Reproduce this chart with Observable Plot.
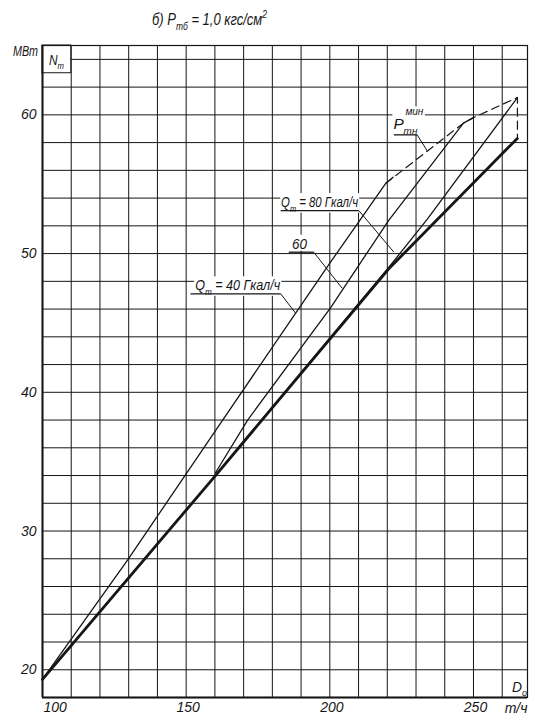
<!DOCTYPE html>
<html><head><meta charset="utf-8">
<script src="https://cdn.jsdelivr.net/npm/d3@7"></script>
<script src="https://cdn.jsdelivr.net/npm/@observablehq/plot@0.6"></script>
<style>html,body{margin:0;padding:0;background:#fff}</style>
</head><body><div id="chart"></div>
<script>
// ---- axes / grid ----
const xDomain = [100, 268.8];
const yDomain = [18, 65];
const xTicks = [100, 150, 200, 250];
const yTicks = [20, 30, 40, 50, 60];
const xGridLines = [110, 120, 130, 140, 150, 160, 170, 180, 190, 200, 210, 220, 230, 240, 250, 260];
const yGridLines = [20, 22, 24, 26, 28, 30, 32, 34, 36, 38, 40, 42, 44, 46, 48, 50, 52, 54, 56, 58, 60, 62];
const topGridLine = [64];
const boxD = [100, 110];
const boxN = [63, 65];

// ---- curves (D0, t/h  ->  N_T, MW) ----
const dBase = [100, 160.2, 200.3, 220.5, 265.25];
const nBase = [19.3, 34.0, 43.9, 48.9, 58.3];
const dQ40 = [100, 129.6, 162.7, 200.3, 219.4, 222];
const nQ40 = [19.3, 27.9, 38.0, 49.4, 55.05, 55.5];
const dQ60 = [160.2, 171.4, 200.3, 220.5, 246.5, 250];
const nQ60 = [34.2, 38.0, 46.1, 52.4, 59.4, 59.8];
const dQ80 = [160.2, 200.3, 220.5, 234, 265.3];
const nQ80 = [34.05, 44.0, 49.0, 52.5, 61.25];
const dPmin = [219.4, 234, 246.5, 250, 265.3, 265.3];
const nPmin = [55.05, 57.4, 59.4, 59.8, 61.25, 58.3];

// ---- callouts: underline start/end, leader tip ----
const calloutNames = ["Q40", "Q60", "Q80", "Pmin"];
const ulD1 = [151.5, 185.7, 182.9, 222.3];
const ulD2 = [182.9, 194.4, 210.1, 230.4];
const ulN = [47.1, 50.1, 53.1, 58.56];
const tipD = [188.1, 204.3, 222.3, 233.9];
const tipN = [45.7, 47.5, 50.1, 57.4];
const textD = [153.3, 187.0, 183.2, 222.3];

const INK = "#161616";
const FONT = "'Liberation Sans', Arial, sans-serif";

const rows = (ds, ns) => ds.map((d, i) => ({D: d, N: ns[i]}));
const callouts = calloutNames.map((k, i) => ({k, x1: ulD1[i], x2: ulD2[i], y: ulN[i], tx: tipD[i], ty: tipN[i]}));

const plot = Plot.plot({
  width: 541, height: 726,
  marginLeft: 42, marginRight: 14, marginTop: 45, marginBottom: 29,
  x: {domain: xDomain, axis: null},
  y: {domain: yDomain, axis: null},
  style: {background: "white", fontFamily: FONT, color: INK},
  marks: [
    Plot.ruleX(xGridLines, {x: d => d, stroke: INK, strokeWidth: 1}),
    Plot.ruleY(yGridLines, {y: d => d, stroke: INK, strokeWidth: 1}),
    Plot.ruleY(topGridLine, {y: d => d, x1: () => boxD[1], x2: () => xDomain[1], stroke: INK, strokeWidth: 1}),
    Plot.rect([0], {x1: () => boxD[0], x2: () => boxD[1], y1: () => boxN[0], y2: () => boxN[1], fill: "white", stroke: INK, strokeWidth: 1}),
    Plot.frame({stroke: INK, strokeWidth: 1.2}),
    Plot.ruleX([xDomain[0]], {x: d => d, stroke: INK, strokeWidth: 2}),
    Plot.ruleY([yDomain[0]], {y: d => d, stroke: INK, strokeWidth: 2}),
    Plot.line(rows(dPmin, nPmin), {x: "D", y: "N", stroke: INK, strokeWidth: 1.2, strokeDasharray: "8,5"}),
    Plot.line(rows(dQ40, nQ40), {x: "D", y: "N", stroke: INK, strokeWidth: 1.3}),
    Plot.line(rows(dQ60, nQ60), {x: "D", y: "N", stroke: INK, strokeWidth: 1.3}),
    Plot.line(rows(dQ80, nQ80), {x: "D", y: "N", stroke: INK, strokeWidth: 1.3}),
    Plot.line(rows(dBase, nBase), {x: "D", y: "N", stroke: INK, strokeWidth: 2.8}),
    Plot.link(callouts, {x1: "x1", x2: "x2", y1: "y", y2: "y", stroke: INK, strokeWidth: 1.3}),
    Plot.link(callouts, {x1: "x2", y1: "y", x2: "tx", y2: "ty", stroke: INK, strokeWidth: 1}),
    Plot.text(xTicks.slice(0, 1), {x: d => d, text: d => String(d), frameAnchor: "bottom", dy: 14, dx: 1, textAnchor: "start", fontSize: 14, fontStyle: "italic", fill: INK}),
    Plot.text(xTicks.slice(1), {x: d => d, text: d => String(d), frameAnchor: "bottom", dy: 14, dx: 2, fontSize: 14, fontStyle: "italic", fill: INK}),
    Plot.text(yTicks, {y: d => d, text: d => String(d), frameAnchor: "left", dx: -6, textAnchor: "end", fontSize: 14, fontStyle: "italic", fill: INK}),
    Plot.text(["т/ч"], {frameAnchor: "bottom-right", dy: 15, textAnchor: "end", fontSize: 14, fontStyle: "italic", fill: INK})
  ]
});
document.getElementById("chart").appendChild(plot);

const svg = d3.select(plot);
const sx = v => plot.scale("x").apply(v);
const sy = v => plot.scale("y").apply(v);

function rich(parent, x, y, parts, size, len) {
  const t = parent.append("text")
    .attr("x", x).attr("y", y)
    .attr("text-anchor", "start")
    .attr("font-family", FONT).attr("font-style", "italic")
    .attr("font-size", size).attr("fill", INK);
  let cur = 0;
  for (const [s, k] of parts) {
    const target = k === "sub" ? size * 0.3 : k === "sup" ? -size * 0.42 : 0;
    t.append("tspan").attr("dy", target - cur)
      .attr("font-size", k === "n" ? size : size * 0.65).text(s);
    cur = target;
  }
  if (len) t.attr("textLength", len).attr("lengthAdjust", "spacingAndGlyphs");
  return t;
}

// labels with white background, placed under the callout lines
const linkNode = plot.querySelector("g[aria-label='link']");
function bgLabel(build) {
  const g = d3.create("svg:g");
  plot.insertBefore(g.node(), linkNode);
  build(g);
  const b = g.node().getBBox();
  g.insert("rect", ":first-child").attr("x", b.x - 1).attr("y", b.y).attr("width", b.width + 2).attr("height", b.height - 1).attr("fill", "white");
  return g;
}

bgLabel(g => rich(g, sx(textD[0]), sy(ulN[0]) - 3, [["Q", "n"], ["т", "sub"], [" = 40 Гкал/ч", "n"]], 15, 85));
bgLabel(g => rich(g, sx(textD[1]), sy(ulN[1]) - 3, [["60", "n"]], 15, 15));
bgLabel(g => rich(g, sx(textD[2]), sy(ulN[2]) - 3, [["Q", "n"], ["т", "sub"], [" = 80 Гкал/ч", "n"]], 15, 77));
bgLabel(g => {
  rich(g, sx(textD[3]), sy(ulN[3]) - 5, [["P", "n"], ["тн", "sub"]], 15, 24);
  rich(g, sx(textD[3]) + 12, sy(ulN[3]) - 19, [["мин", "n"]], 10, 18);
});

// frame texts
rich(svg, 152, 25, [["б) P", "n"], ["тб", "sub"], [" = 1,0 кгс/см", "n"], ["2", "sup"]], 17, 115);
rich(svg, 13, 56, [["МВт", "n"]], 14, 25);
rich(svg, sx(boxD[0]) + 7, sy(boxN[0]) - 8, [["N", "n"], ["т", "sub"]], 15, 15);
rich(svg, sx(xDomain[1]) - 15, sy(yDomain[0]) - 5, [["D", "n"], ["о", "sub"]], 14, 15);
</script>
</body></html>
